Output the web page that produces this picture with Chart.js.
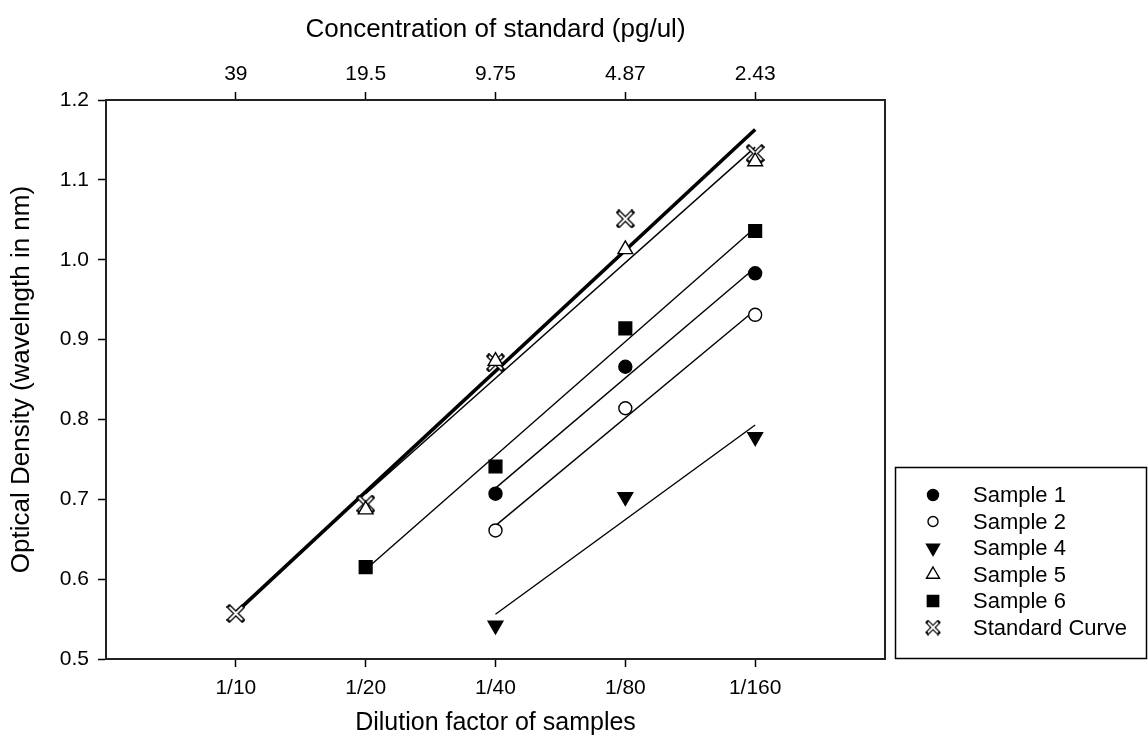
<!DOCTYPE html>
<html lang="en">
<head>
<meta charset="UTF-8">
<title>Optical density vs dilution</title>
<script src="https://cdn.jsdelivr.net/npm/chart.js"></script>
<style>
  body { margin: 0; background: #fff; }
</style>
</head>
<body>
<canvas id="odChart" width="1148" height="751"></canvas>
<script>
const dilutionLabels = ['1/10', '1/20', '1/40', '1/80', '1/160'];
const concentrationLabels = ['39', '19.5', '9.75', '4.87', '2.43'];
const dilutionSteps = [1, 2, 3, 4, 5];

// measured OD per dilution step (null = not measured)
const sample1 = [null, null, 0.707, 0.866, 0.983];
const sample2 = [null, null, 0.661, 0.814, 0.931];
const sample4 = [null, null, 0.542, 0.703, 0.778];
const sample5 = [null, 0.687, 0.873, 1.013, 1.123];
const sample6 = [null, 0.615, 0.741, 0.914, 1.036];
const standard = [0.557, 0.694, 0.871, 1.051, 1.133];

// regression lines (end points only)
const sample1Fit = [null, null, 0.714, null, 0.990];
const sample2Fit = [null, null, 0.667, null, 0.937];
const sample4Fit = [null, null, 0.556, null, 0.793];
const sample5Fit = [null, 0.707, null, null, 1.141];
const sample6Fit = [null, 0.612, null, null, 1.040];
const standardFit = [0.558, null, null, null, 1.163];

const FONT = '"Liberation Sans", Arial, Helvetica, sans-serif';
Chart.defaults.font.family = FONT;
Chart.defaults.color = '#000';

function pts(arr) {
    return dilutionSteps.map((x, i) => ({ x: x, y: arr[i] }));
}

// outlined "X" marker used by the standard curve
function makeCrossMarker(size, outer, inner) {
    const c = document.createElement('canvas');
    c.width = size; c.height = size;
    const g = c.getContext('2d');
    const a = 3, b = size - 3;
    const cross = () => {
        g.beginPath();
        g.moveTo(a, a); g.lineTo(b, b);
        g.moveTo(b, a); g.lineTo(a, b);
        g.stroke();
    };
    g.lineCap = 'square';
    g.strokeStyle = '#000';
    g.lineWidth = outer;
    cross();
    g.lineCap = 'butt';
    g.strokeStyle = '#fff';
    g.lineWidth = inner;
    cross();
    return c;
}
const crossMarker = makeCrossMarker(19, 4.6, 2);
const crossLegend = makeCrossMarker(16, 4.2, 1.8);

function pointSet(label, arr, style, radius, fill, rotation) {
    return {
        label: label,
        data: pts(arr),
        showLine: false,
        pointStyle: style,
        pointRadius: radius,
        pointRotation: rotation || 0,
        pointBackgroundColor: fill,
        pointBorderColor: '#000',
        pointBorderWidth: 1.4,
        order: 1
    };
}

function fitSet(arr, width) {
    return {
        label: '',
        data: pts(arr),
        showLine: true,
        spanGaps: true,
        borderColor: '#000',
        borderWidth: width,
        pointRadius: 0,
        fill: false,
        order: 5
    };
}

const datasets = [
    pointSet('Sample 1', sample1, 'circle', 6.5, '#000'),
    pointSet('Sample 2', sample2, 'circle', 6.5, '#fff'),
    pointSet('Sample 4', sample4, 'triangle', 8.5, '#000', 180),
    pointSet('Sample 5', sample5, 'triangle', 8.5, '#fff'),
    pointSet('Sample 6', sample6, 'rect', 9, '#000'),
    pointSet('Standard Curve', standard, crossMarker, 9, '#fff'),
    fitSet(sample1Fit, 1.4),
    fitSet(sample2Fit, 1.4),
    fitSet(sample4Fit, 1.4),
    fitSet(sample5Fit, 1.4),
    fitSet(sample6Fit, 1.4),
    fitSet(standardFit, 3.6)
];

const boxLegend = {
    id: 'boxLegend',
    afterDraw(chart) {
        const ctx = chart.ctx;
        const left = 895, top = 467, right = 1146, bottom = 658;
        ctx.save();
        ctx.strokeStyle = '#000';
        ctx.lineWidth = 1.5;
        ctx.strokeRect(left + 0.5, top + 0.5, right - left, bottom - top);
        ctx.font = '22px ' + FONT;
        ctx.textBaseline = 'middle';
        const items = chart.data.datasets.filter(d => d.label);
        items.forEach((d, i) => {
            const y = 495 + i * 26.5;
            ctx.fillStyle = d.pointBackgroundColor;
            ctx.strokeStyle = '#000';
            ctx.lineWidth = 1.4;
            const style = d.pointStyle === crossMarker ? crossLegend : d.pointStyle;
            const r = d.pointStyle === 'circle' && d.pointBackgroundColor === '#fff' ? 5 : d.pointRadius - 1;
            Chart.helpers.drawPoint(ctx, {
                pointStyle: style,
                radius: r,
                rotation: d.pointRotation,
                borderWidth: 1.4
            }, 933, y);
            ctx.fillStyle = '#000';
            ctx.fillText(d.label, 973, y + 1);
        });
        ctx.restore();
    }
};

function fixedSize(prop, value) {
    return function (scale) { scale[prop] = value; };
}

const tickGrid = { drawOnChartArea: false, tickLength: 8, tickColor: '#000', tickWidth: 1.5 };
const axisBorder = { color: '#222', width: 2 };

new Chart(document.getElementById('odChart'), {
    type: 'scatter',
    data: { datasets: datasets },
    options: {
        responsive: false,
        animation: false,
        layout: { padding: { left: 0, right: 263, top: 0, bottom: 0 } },
        plugins: {
            legend: { display: false },
            tooltip: { enabled: false }
        },
        scales: {
            x: {
                type: 'linear',
                position: 'bottom',
                min: 0,
                max: 6,
                afterBuildTicks: s => { s.ticks = dilutionSteps.map(v => ({ value: v })); },
                afterFit: fixedSize('height', 92),
                ticks: {
                    callback: v => dilutionLabels[v - 1],
                    font: { size: 21 },
                    padding: 9,
                    maxRotation: 0
                },
                grid: tickGrid,
                border: axisBorder,
                title: {
                    display: true,
                    text: 'Dilution factor of samples',
                    font: { size: 25 },
                    padding: { top: 0, bottom: 13 }
                }
            },
            xTop: {
                type: 'linear',
                position: 'top',
                min: 0,
                max: 6,
                afterBuildTicks: s => { s.ticks = dilutionSteps.map(v => ({ value: v })); },
                afterFit: fixedSize('height', 100),
                ticks: {
                    callback: v => concentrationLabels[v - 1],
                    font: { size: 21 },
                    padding: 5,
                    maxRotation: 0
                },
                grid: tickGrid,
                border: axisBorder,
                title: {
                    display: true,
                    text: 'Concentration of standard (pg/ul)',
                    font: { size: 26 },
                    padding: { top: 14, bottom: 0 }
                }
            },
            y: {
                type: 'linear',
                position: 'left',
                min: 0.5,
                max: 1.2,
                afterFit: fixedSize('width', 106),
                ticks: {
                    stepSize: 0.1,
                    callback: v => v.toFixed(1),
                    font: { size: 21 },
                    padding: 9
                },
                grid: tickGrid,
                border: axisBorder,
                title: {
                    display: true,
                    text: 'Optical Density (wavelngth in nm)',
                    font: { size: 26 },
                    padding: { top: 6, bottom: 0 }
                }
            },
            yRight: {
                type: 'linear',
                position: 'right',
                min: 0.5,
                max: 1.2,
                afterFit: fixedSize('width', 0),
                ticks: { display: false },
                grid: { drawOnChartArea: false, drawTicks: false },
                border: axisBorder
            }
        }
    },
    plugins: [boxLegend]
});
</script>
</body>
</html>
